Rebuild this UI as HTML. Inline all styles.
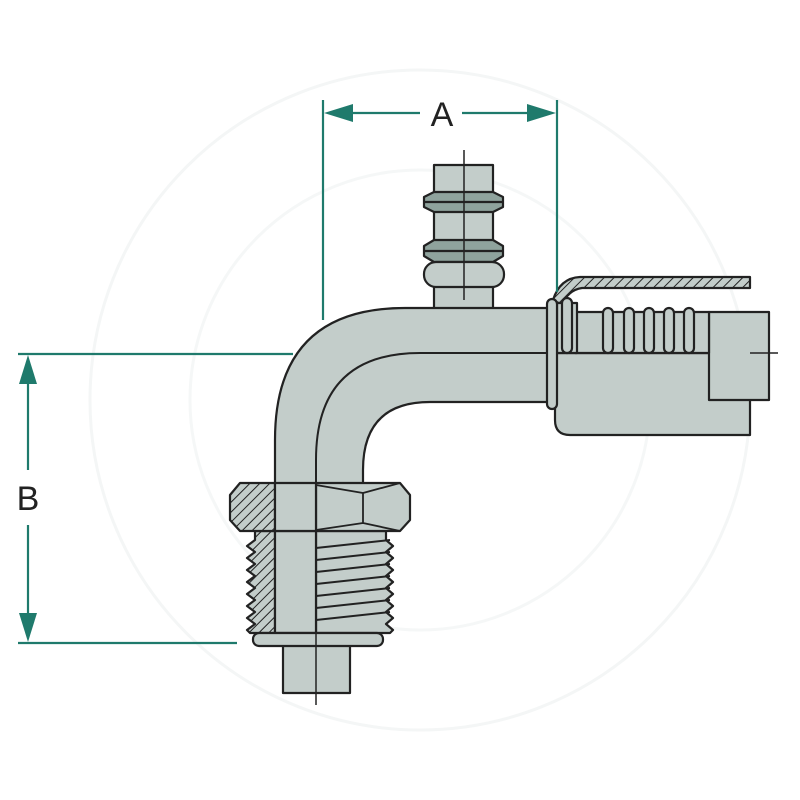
<!DOCTYPE html>
<html><head><meta charset="utf-8"><style>html,body{margin:0;padding:0;background:#fff}svg{display:block}</style></head>
<body>
<svg width="800" height="800" viewBox="0 0 800 800" xmlns="http://www.w3.org/2000/svg">
<defs>
<pattern id="h" width="7" height="7" patternUnits="userSpaceOnUse" patternTransform="rotate(45)">
<rect width="7" height="7" fill="#c3cdca"/><line x1="0" y1="0" x2="0" y2="7" stroke="#222" stroke-width="2"/></pattern>
</defs>
<circle cx="420" cy="400" r="330" fill="none" stroke="#f4f6f6" stroke-width="3"/>
<circle cx="420" cy="400" r="230" fill="none" stroke="#f5f7f7" stroke-width="3"/>
<g stroke="#222" stroke-width="2.2" fill="#c3cdca" stroke-linejoin="round">
<path d="M553,300 Q560,278 580,277 L750,277 L750,288 L582,288 Q568,290 562,305 Z" fill="url(#h)"/>
<path d="M555,353 L750,353 L750,435 L570,435 Q555,435 555,420 Z"/>
<rect x="709" y="312" width="60" height="88"/>
<rect x="575" y="312" width="134" height="41"/>
<rect x="557" y="303" width="20" height="50"/>
<g>
<rect x="603" y="308" width="10" height="45" rx="5"/>
<rect x="624" y="308" width="10" height="45" rx="5"/>
<rect x="644" y="308" width="10" height="45" rx="5"/>
<rect x="664" y="308" width="10" height="45" rx="5"/>
<rect x="684" y="308" width="10" height="45" rx="5"/>
<rect x="562" y="298" width="10" height="55" rx="5"/>
</g>
<rect x="434" y="165" width="59" height="145"/>
<path d="M434,192 L424,197 L424,207 L434,212 L493,212 L503,207 L503,197 L493,192 Z" fill="#8fa39d"/>
<line x1="424" y1="202" x2="503" y2="202"/>
<path d="M434,240 L424,246 L424,256 L434,262 L493,262 L503,256 L503,246 L493,240 Z" fill="#8fa39d"/>
<line x1="424" y1="251" x2="503" y2="251"/>
<rect x="424" y="262" width="80" height="25" rx="12"/>
<path d="M555,308 L405,308 Q275,308 275,440 L275,640 L363,640 L363,470 Q363,402 430,402 L555,402 Z"/>
<path d="M316,640 L316,460 Q316,353 420,353 L555,353" fill="none" stroke-width="2"/>
<rect x="547" y="299" width="10" height="110" rx="5"/>
<!-- threads -->
<path d="M255,531 L255,540 L247,546 L255,552 L247,558 L255,564 L247,570 L255,576 L247,582 L255,588 L247,594 L255,600 L247,606 L255,612 L247,618 L255,624 L247,630 L250,633 L275,633 L275,531 Z" fill="url(#h)"/>
<path d="M316,531 L386,531 L386,540 L393,546 L386,552 L393,558 L386,564 L393,570 L386,576 L393,582 L386,588 L393,594 L386,600 L393,606 L386,612 L393,618 L386,624 L393,630 L390,633 L316,633 Z"/>
<g stroke-width="2">
<line x1="316" y1="548" x2="390" y2="540"/><line x1="316" y1="560" x2="390" y2="552"/>
<line x1="316" y1="572" x2="390" y2="564"/><line x1="316" y1="584" x2="390" y2="576"/>
<line x1="316" y1="596" x2="390" y2="588"/><line x1="316" y1="608" x2="390" y2="600"/>
<line x1="316" y1="620" x2="390" y2="612"/>
</g>
<rect x="275" y="531" width="41" height="102"/>
<!-- nut -->
<path d="M240,483 L230,495 L230,520 L240,531 L275,531 L275,483 Z" fill="url(#h)"/>
<path d="M316,483 L400,483 L410,495 L410,520 L400,531 L316,531 Z"/>
<path d="M316,485 L363,493 L400,483 M363,493 L363,523 M316,530 L363,523 L400,531" fill="none" stroke-width="1.8"/>
<rect x="275" y="483" width="41" height="48"/>
<rect x="283" y="645" width="67" height="48"/>
<rect x="253" y="633" width="130" height="13" rx="6"/>
</g>
<g stroke="#222" stroke-width="1.5">
<line x1="464" y1="150" x2="464" y2="300"/>
<line x1="316" y1="633" x2="316" y2="705"/>
<line x1="750" y1="353" x2="778" y2="353"/>
</g>
<g stroke="#1f7a6c" stroke-width="2.2" fill="#1f7a6c">
<line x1="323" y1="100" x2="323" y2="320"/>
<line x1="557" y1="100" x2="557" y2="292"/>
<line x1="345" y1="113" x2="420" y2="113"/>
<line x1="462" y1="113" x2="535" y2="113"/>
<polygon points="324,113 353,104 353,122" stroke="none"/>
<polygon points="556,113 527,104 527,122" stroke="none"/>
<line x1="18" y1="354" x2="293" y2="354"/>
<line x1="18" y1="643" x2="237" y2="643"/>
<line x1="28" y1="375" x2="28" y2="470"/>
<line x1="28" y1="525" x2="28" y2="622"/>
<polygon points="28,355 19,384 37,384" stroke="none"/>
<polygon points="28,642 19,613 37,613" stroke="none"/>
</g>
<text x="442" y="126" font-family="Liberation Sans, sans-serif" font-size="34" text-anchor="middle" fill="#222">A</text>
<text x="28" y="510" font-family="Liberation Sans, sans-serif" font-size="34" text-anchor="middle" fill="#222">B</text>
</svg>
</body></html>
